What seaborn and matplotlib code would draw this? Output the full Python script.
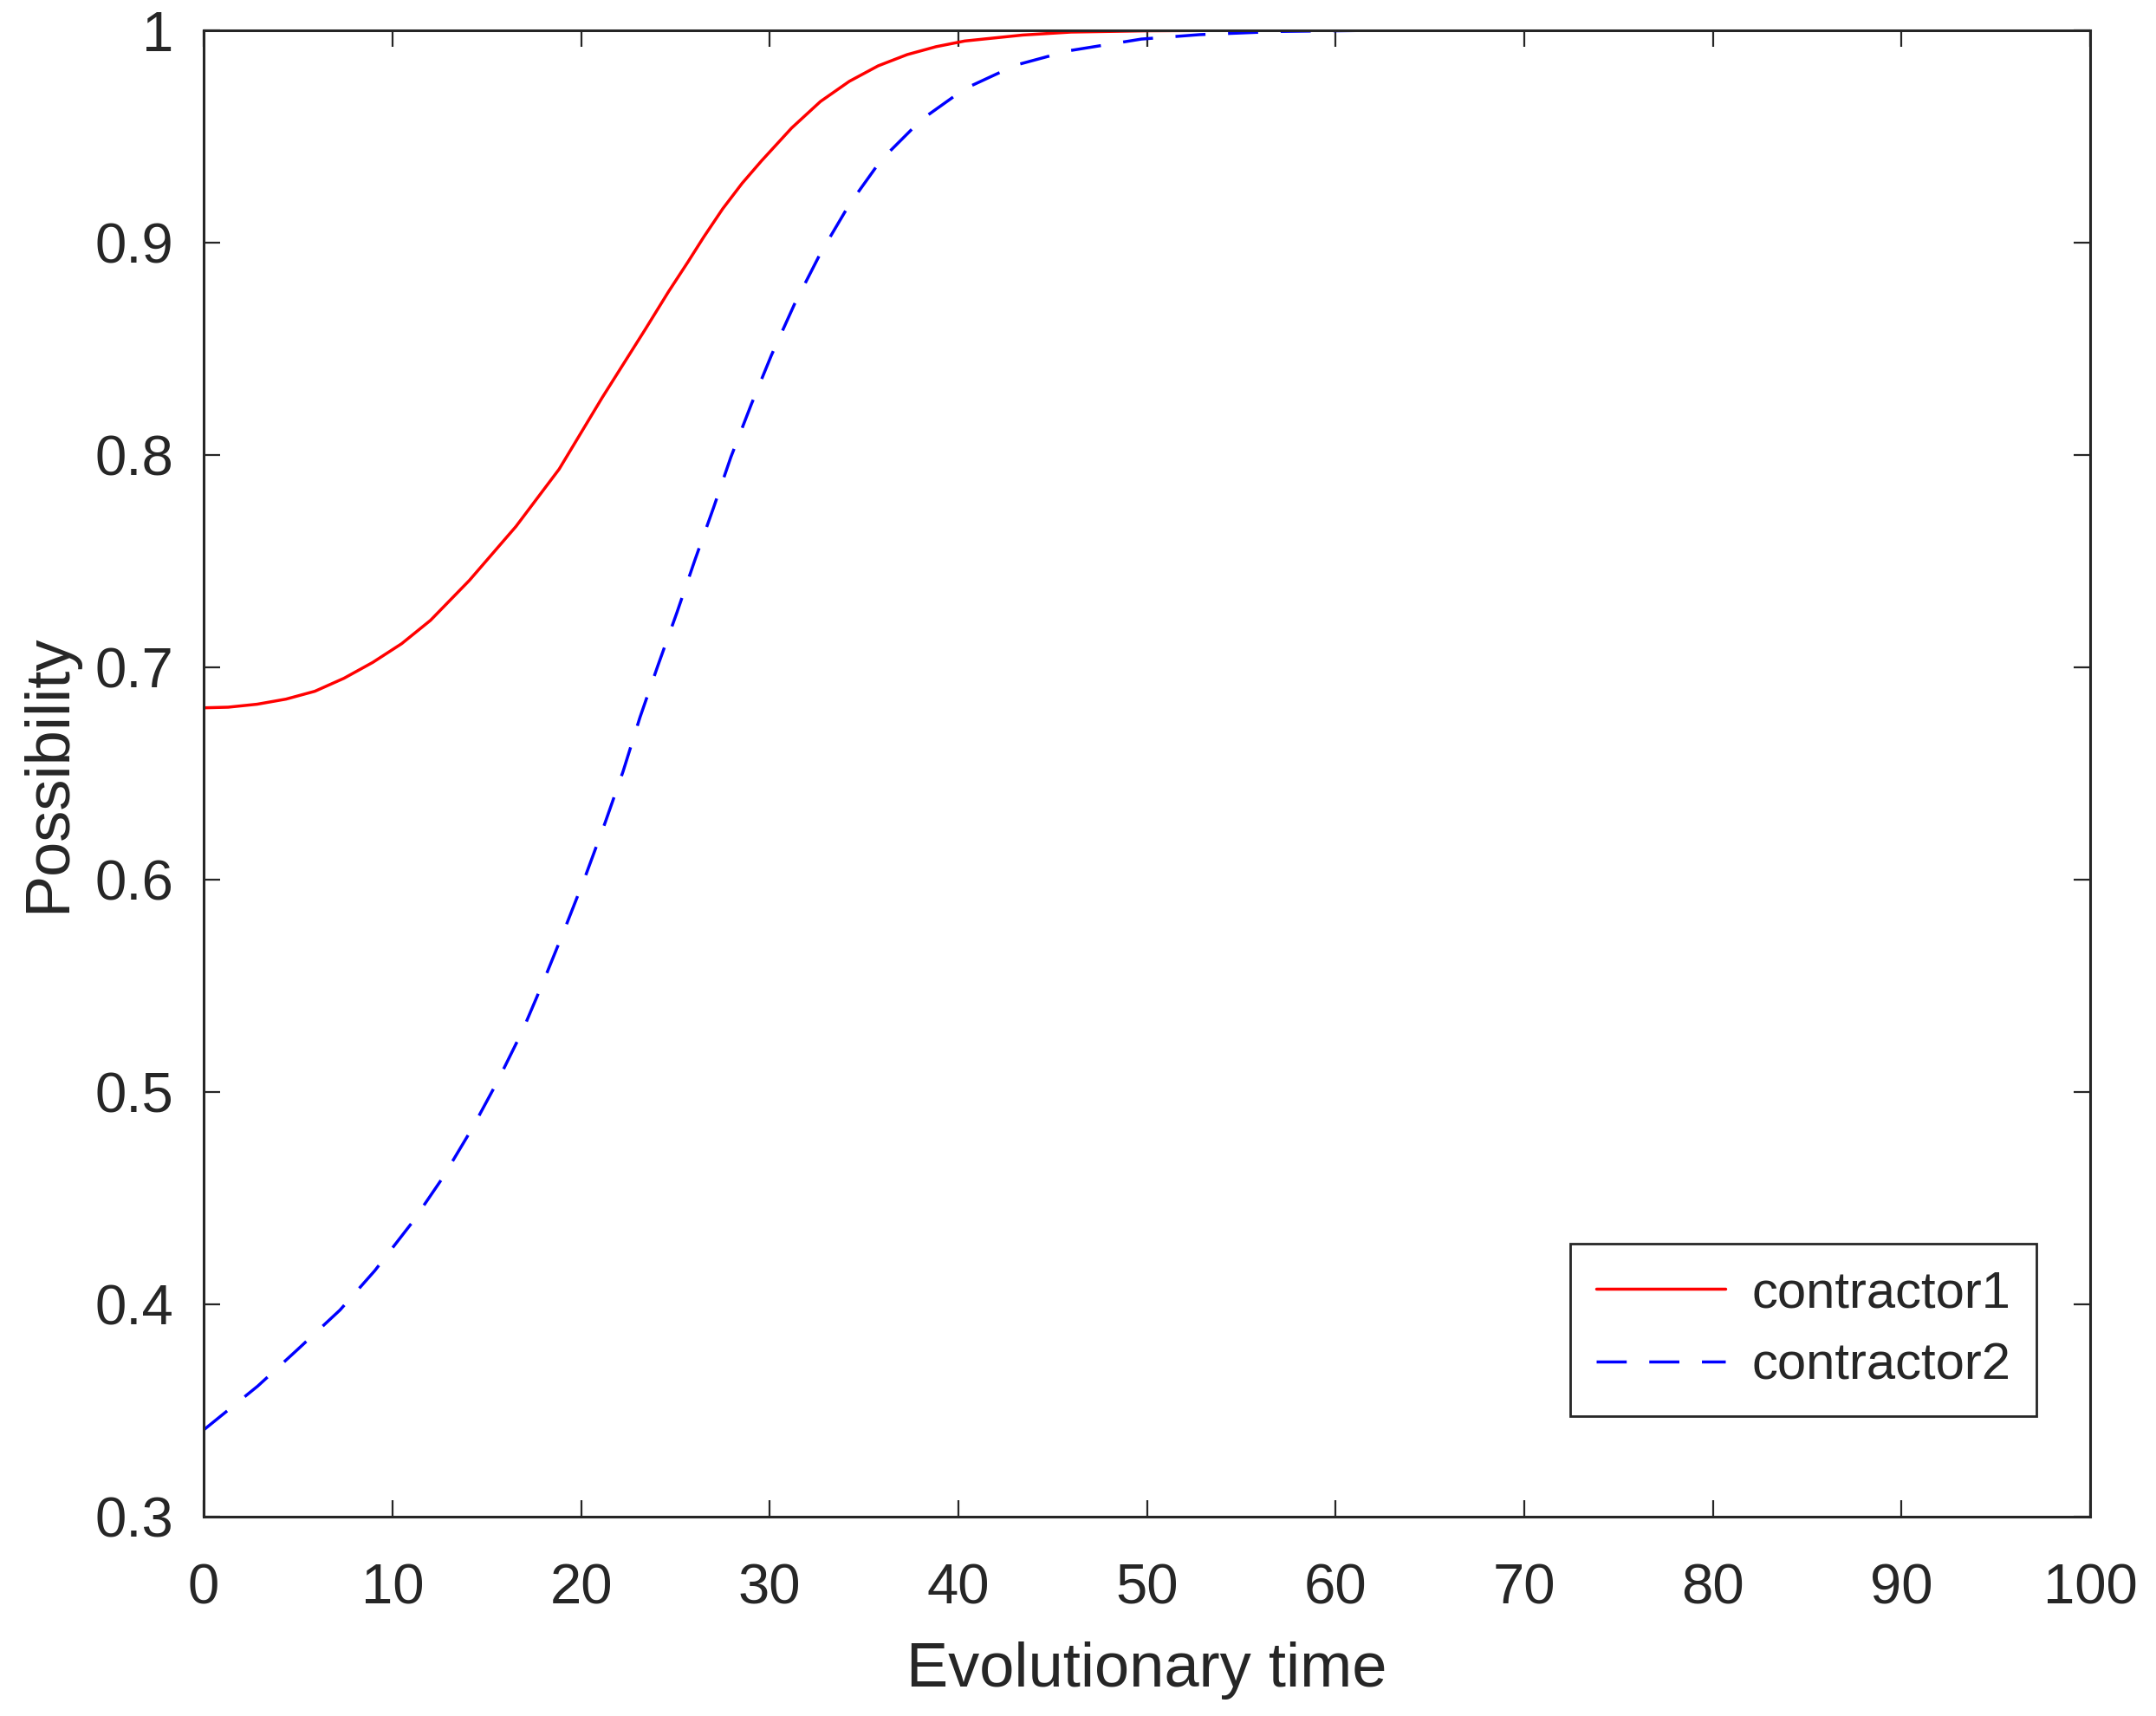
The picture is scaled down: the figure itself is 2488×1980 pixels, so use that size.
import numpy as np
import pandas as pd
import matplotlib
matplotlib.use("Agg")
import matplotlib.pyplot as plt
import seaborn as sns

# ---- data (points picked along each curve) ----
time_c1 = [0, 1.3, 2.83, 4.36, 5.89, 7.43, 8.96, 10.49, 12.02, 14.08, 16.55,
           18.84, 21.13, 23.41, 24.64, 25.67, 26.49, 27.51, 28.54, 29.56,
           31.16, 32.69, 34.22, 35.75, 37.29, 38.81, 40.34, 43.41, 45.97,
           50, 55, 60, 70, 80, 90, 100]
contractor1 = [0.681, 0.6813, 0.6827, 0.6851, 0.6888, 0.6949, 0.7024, 0.7112,
               0.7222, 0.741, 0.7664, 0.7934, 0.8272, 0.8593, 0.8770, 0.891,
               0.9025, 0.9160, 0.9280, 0.9385, 0.9540, 0.9665, 0.9760, 0.9833,
               0.9886, 0.9923, 0.9950, 0.9978, 0.9992, 0.9998, 1.0, 1.0, 1.0,
               1.0, 1.0, 1.0]
time_c2 = [0, 2.86, 4.97, 7.22, 9.07, 11.06, 12.65, 14.23, 15.56, 16.9, 18.0,
           19.14, 20.2, 21.28, 22.23, 23.12, 24.07, 25.08, 26.04, 27.03, 27.94,
           29.03, 30.09, 31.31, 32.69, 34.22, 35.91, 38.05, 40.34, 43.03,
           45.86, 49.7, 52.8, 57, 62, 70, 80, 90, 100]
contractor2 = [0.341, 0.3616, 0.3788, 0.3974, 0.4160, 0.4388, 0.4595, 0.4830,
               0.5049, 0.529, 0.5520, 0.577, 0.601, 0.627, 0.6511, 0.6764,
               0.7008, 0.7258, 0.7507, 0.7754, 0.7990, 0.8240, 0.847, 0.871,
               0.895, 0.918, 0.9390, 0.958, 0.9725, 0.9836, 0.9904, 0.9959,
               0.998, 0.9995, 1.0, 1.0, 1.0, 1.0, 1.0]
series_names = ["contractor1", "contractor2"]
x_ticks = [0, 10, 20, 30, 40, 50, 60, 70, 80, 90, 100]
y_ticks = [0.3, 0.4, 0.5, 0.6, 0.7, 0.8, 0.9, 1.0]
y_tick_labels = ["0.3", "0.4", "0.5", "0.6", "0.7", "0.8", "0.9", "1"]
x_label = "Evolutionary time"
y_label = "Possibility"

sns.set_theme(style="white")
plt.rcParams["font.family"] = ["Liberation Sans", "DejaVu Sans"]

fig = plt.figure(figsize=(24.88, 19.80), dpi=100)
ax = fig.add_axes([0.0945, 0.1160, 0.9695 - 0.0945, 0.9823 - 0.1160])

sns.lineplot(x=time_c1, y=contractor1, ax=ax, color="#ff0000", linewidth=2.5,
             label=series_names[0])
sns.lineplot(x=time_c2, y=contractor2, ax=ax, color="#0000ff", linewidth=2.5,
             linestyle=(0, (10, 7.5)), label=series_names[1])

ax.set_xlim(0, 100)
ax.set_ylim(0.3, 1.0)
ax.set_xticks(x_ticks)
ax.set_xticklabels([str(v) for v in x_ticks])
ax.set_yticks(y_ticks)
ax.set_yticklabels(y_tick_labels)

for s in ax.spines.values():
    s.set_visible(True)
    s.set_color("#262626")
    s.set_linewidth(2.2)

ax.tick_params(axis="both", which="major", direction="in", length=14,
               width=1.6, colors="#262626", labelsize=47, top=True, right=True,
               bottom=True, left=True)
ax.tick_params(axis="x", pad=38)
ax.tick_params(axis="y", pad=25)
for lbl in ax.get_xticklabels() + ax.get_yticklabels():
    lbl.set_color("#262626")

ax.set_xlabel(x_label, fontsize=52, color="#262626", labelpad=22)
ax.set_ylabel(y_label, fontsize=52, color="#262626", labelpad=14)

leg = ax.legend(loc="lower right", bbox_to_anchor=(0.9715, 0.068),
                borderaxespad=0, fontsize=43, frameon=True, fancybox=False,
                edgecolor="#262626", handlelength=2.5, handletextpad=0.5,
                labelspacing=0.48, borderpad=0.5)
leg.get_frame().set_linewidth(2.0)
leg.get_frame().set_alpha(1)
for t in leg.get_texts():
    t.set_color("#262626")

fig.savefig("out.png", dpi=100, facecolor="white")
